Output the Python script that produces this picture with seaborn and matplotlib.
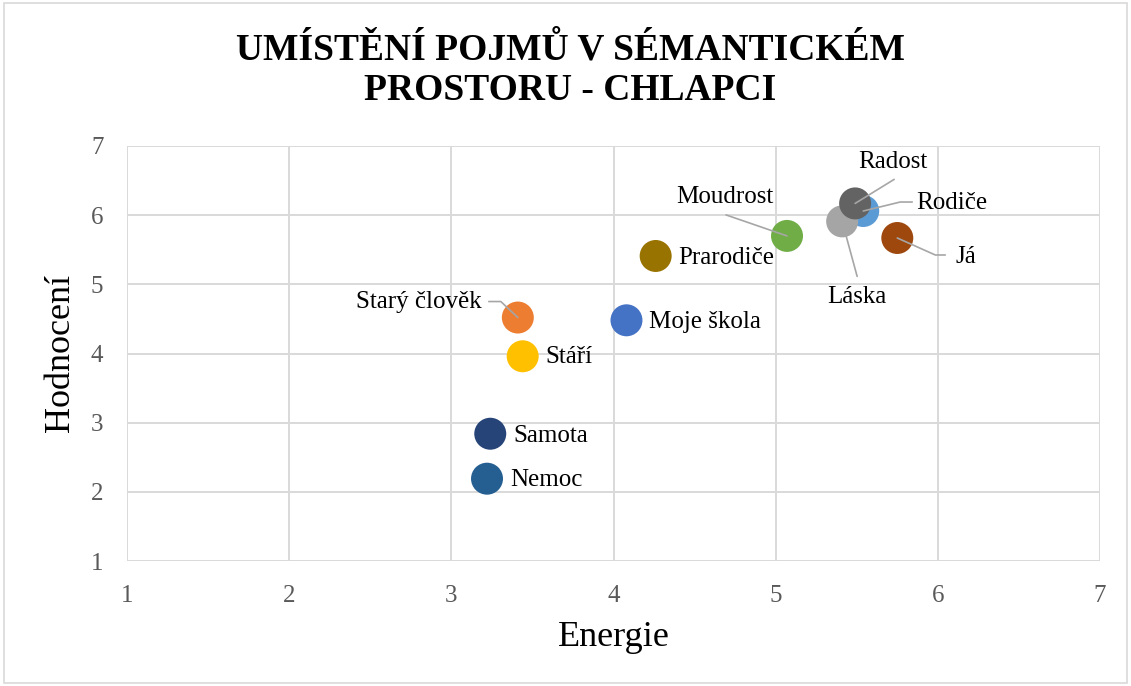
import math
import matplotlib
matplotlib.use("Agg")
import matplotlib.pyplot as plt
from matplotlib.patches import Rectangle
import seaborn as sns
import pandas as pd

# ---- data ----
concepts = ["Rodiče", "Láska", "Radost", "Já", "Moudrost", "Prarodiče",
            "Moje škola", "Starý člověk", "Stáří", "Samota", "Nemoc"]
energie = [5.54, 5.41, 5.49, 5.75, 5.07, 4.26, 4.08, 3.41, 3.44, 3.24, 3.22]
hodnoceni = [6.06, 5.91, 6.17, 5.67, 5.70, 5.41, 4.48, 4.52, 3.96, 2.84, 2.19]
colors = ["#5B9BD5", "#A5A5A5", "#636363", "#9E480E", "#70AD47", "#997300",
          "#4472C4", "#ED7D31", "#FFC000", "#264478", "#255E91"]
x_ticks = [1, 2, 3, 4, 5, 6, 7]
y_ticks = [1, 2, 3, 4, 5, 6, 7]

df = pd.DataFrame({"Energie": energie, "Hodnocení": hodnoceni, "Pojem": concepts})

sns.set_theme(style="whitegrid")
plt.rcParams["font.family"] = ["Liberation Serif", "DejaVu Serif"]

W, H = 1131, 686
fig = plt.figure(figsize=(W / 100, H / 100), dpi=100)
fig.patch.set_facecolor("white")
ax = fig.add_axes([127 / W, 1 - 561 / H, (1100 - 127) / W, (561 - 146) / H])

sns.scatterplot(data=df, x="Energie", y="Hodnocení", hue="Pojem",
                palette=dict(zip(concepts, colors)), s=530, linewidth=0,
                legend=False, ax=ax, zorder=3)

ax.set_xlim(1, 7)
ax.set_ylim(1, 7)
ax.set_xticks(x_ticks)
ax.set_yticks(y_ticks)
ax.grid(True, color="#D9D9D9", linewidth=1.4)
ax.set_axisbelow(True)
for sp in ax.spines.values():
    sp.set_visible(False)
ax.tick_params(axis="both", length=0, labelsize=18, labelcolor="#595959")
ax.tick_params(axis="x", pad=17)
ax.tick_params(axis="y", pad=17)

ax.set_xlabel("Energie", fontsize=26, color="black")
ax.set_ylabel("Hodnocení", fontsize=26, color="black")
ax.xaxis.label.set_va("center")
ax.yaxis.label.set_va("center")
ax.xaxis.set_label_coords(0.5, -(637 - 561) / 415)
ax.yaxis.set_label_coords(-(127 - 60) / 973, 0.5)

fig.text(0.5045, 1 - 70 / H, "UMÍSTĚNÍ POJMŮ V SÉMANTICKÉM\nPROSTORU - CHLAPCI",
         ha="center", va="center", fontsize=27, fontweight="bold",
         color="black", linespacing=1.2)

# ---- data labels (offsets in pixels from point) ----
label_style = {
    "Radost": ((38, 41), "center"),
    "Rodiče": ((53, 8), "left"),
    "Já": ((58, -19), "left"),
    "Láska": ((15, -76), "center"),
    "Moudrost": ((-62, 39), "center"),
    "Prarodiče": ((23, -2), "left"),
    "Moje škola": ((23, -2), "left"),
    "Starý člověk": ((-36, 16), "right"),
    "Stáří": ((23, -1), "left"),
    "Samota": ((23, -2), "left"),
    "Nemoc": ((23, -1), "left"),
}
# leader lines: start (text side) offset, optional elbow offset
leaders = {
    "Radost": ((39, 24), None),
    "Láska": ((15, -55), None),
    "Moudrost": ((-61, 21), None),
    "Rodiče": ((49, 9), (37, 9)),
    "Já": ((48, -17), (38, -17)),
    "Starý člověk": ((-29, 16), (-17, 16)),
}

lead_col = "#A6A6A6"
for name, x, y in zip(concepts, energie, hodnoceni):
    (dx, dy), ha = label_style[name]
    ax.annotate(name, xy=(x, y), xytext=(dx, dy), textcoords="offset pixels",
                ha=ha, va="center", fontsize=18, color="black", zorder=5)
    if name in leaders:
        (sx, sy), elbow = leaders[name]
        if elbow is None:
            cs = "arc3,rad=0"
        else:
            ex, ey = elbow
            angB = math.degrees(math.atan2(ey, ex))
            cs = f"angle,angleA=0,angleB={angB:.2f},rad=0"
        ax.annotate("", xy=(x, y), xytext=(sx, sy), textcoords="offset pixels",
                    arrowprops=dict(arrowstyle="-", color=lead_col, lw=1.2,
                                    shrinkA=0, shrinkB=0, connectionstyle=cs),
                    zorder=4)

fig.patches.append(Rectangle((4 / W, 3 / H), 1 - 8 / W, 1 - 6 / H,
                             transform=fig.transFigure, fill=False,
                             edgecolor="#D9D9D9", linewidth=1.2))

fig.savefig("out.png", dpi=100)
